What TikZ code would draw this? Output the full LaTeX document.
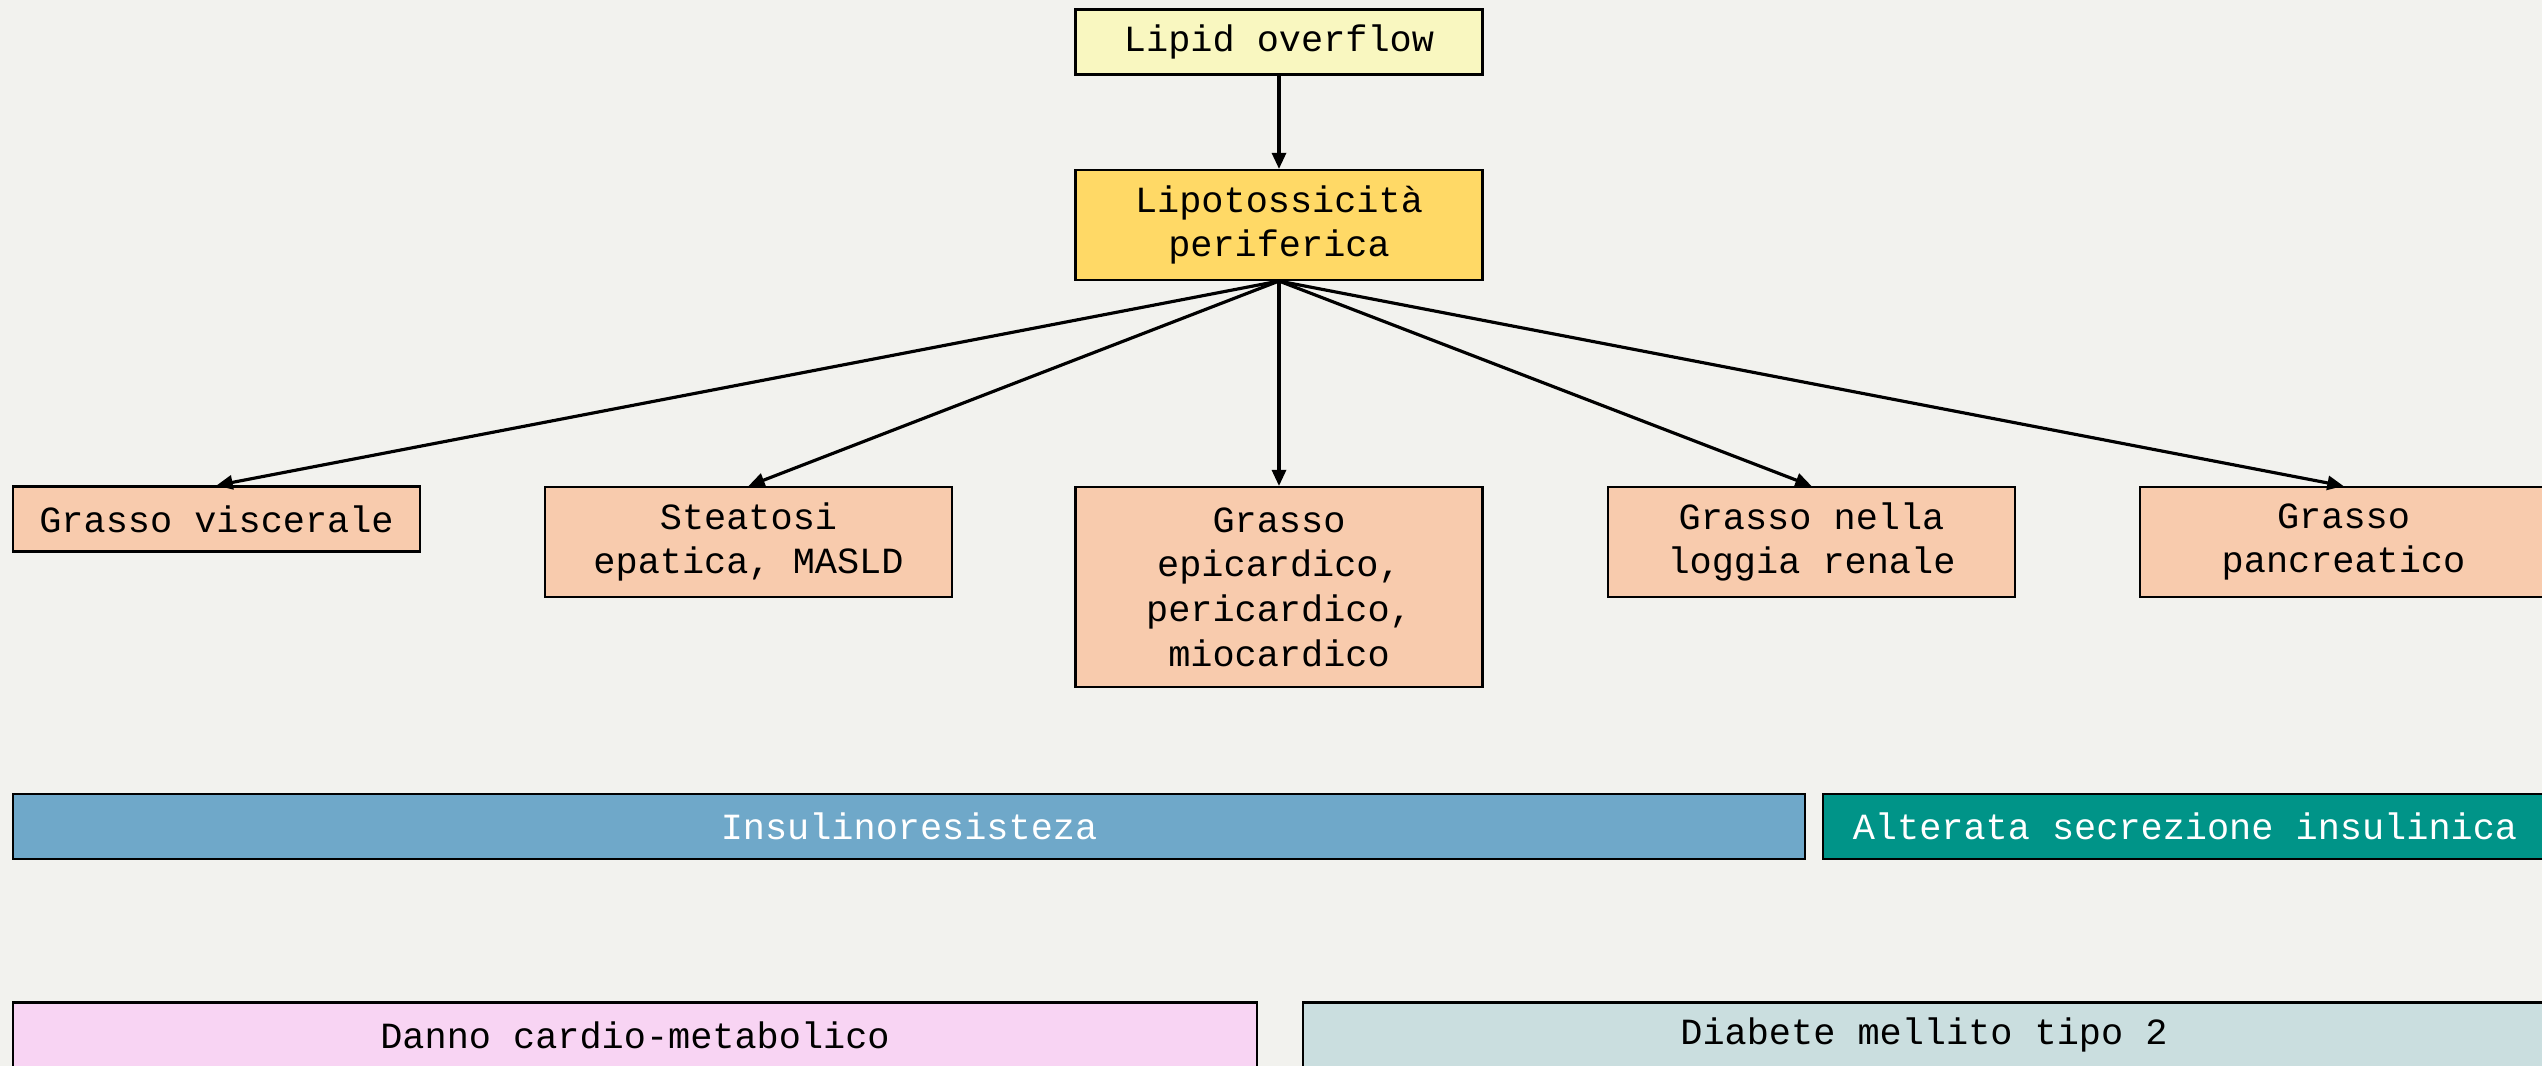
\documentclass[tikz,border=0pt]{standalone}
\usepackage{fontspec}
\setmonofont{Liberation Mono}
\usetikzlibrary{arrows.meta}
\definecolor{bgcol}{HTML}{F2F2EE}
\definecolor{overflowcol}{HTML}{F9F7C0}
\definecolor{lipocol}{HTML}{FFD966}
\definecolor{fatcol}{HTML}{F8CBAD}
\definecolor{ircol}{HTML}{6FA8C9}
\definecolor{seccol}{HTML}{009488}
\definecolor{dannocol}{HTML}{F8D4F3}
\definecolor{dmcol}{HTML}{CADEDF}
\tikzset{
  box/.style={draw,line width=0.6pt,inner sep=0pt,align=center,
    minimum width=4.07cm,minimum height=0.65cm,
    font=\ttfamily\fontsize{10.5pt}{12.7pt}\selectfont},
  arrow/.style={-{Triangle[length=4.6pt,width=4pt]},line width=0.9pt}
}

\begin{document}
\begin{tikzpicture}

  \fill[bgcol] (0,0) rectangle (25.42,-10.66);
  \useasboundingbox (0,0) rectangle (25.42,-10.66);

  \node[box,fill=overflowcol] (LO) at (12.79,-0.42) {Lipid overflow};
  \node[box,fill=lipocol,minimum height=1.1cm] (LP) at (12.79,-2.25) {Lipotossicità\\periferica};

  \node[box,fill=fatcol] (G1) at (2.165,-5.19) {Grasso viscerale};
  \node[box,fill=fatcol,minimum height=1.1cm,anchor=north] (G2) at (7.485,-4.86) {Steatosi\\epatica, MASLD};
  \node[box,fill=fatcol,minimum height=2.0cm,anchor=north] (G3) at (12.79,-4.86) {Grasso\\epicardico,\\pericardico,\\miocardico};
  \node[box,fill=fatcol,minimum height=1.1cm,anchor=north] (G4) at (18.115,-4.86) {Grasso nella\\loggia renale};
  \node[box,fill=fatcol,minimum height=1.1cm,anchor=north] (G5) at (23.435,-4.86) {Grasso\\pancreatico};

  \node[box,fill=ircol,text=white,minimum width=17.92cm] (IR) at (9.09,-8.265) {Insulinoresisteza};
  \node[box,fill=seccol,text=white,minimum width=7.24cm] (AS) at (21.85,-8.265) {Alterata secrezione insulinica};

  \node[box,fill=dannocol,minimum width=12.44cm] (DC) at (6.35,-10.35) {Danno cardio-metabolico};
  \node[box,fill=dmcol,minimum width=12.42cm] (DM) at (19.24,-10.35) {Diabete mellito tipo 2};

  \draw[arrow] (LO) -- (LP);
  \draw[arrow] (LP.south) -- (G1.north);
  \draw[arrow] (LP.south) -- (G2.north);
  \draw[arrow] (LP.south) -- (G3.north);
  \draw[arrow] (LP.south) -- (G4.north);
  \draw[arrow] (LP.south) -- (G5.north);

\end{tikzpicture}
\end{document}
